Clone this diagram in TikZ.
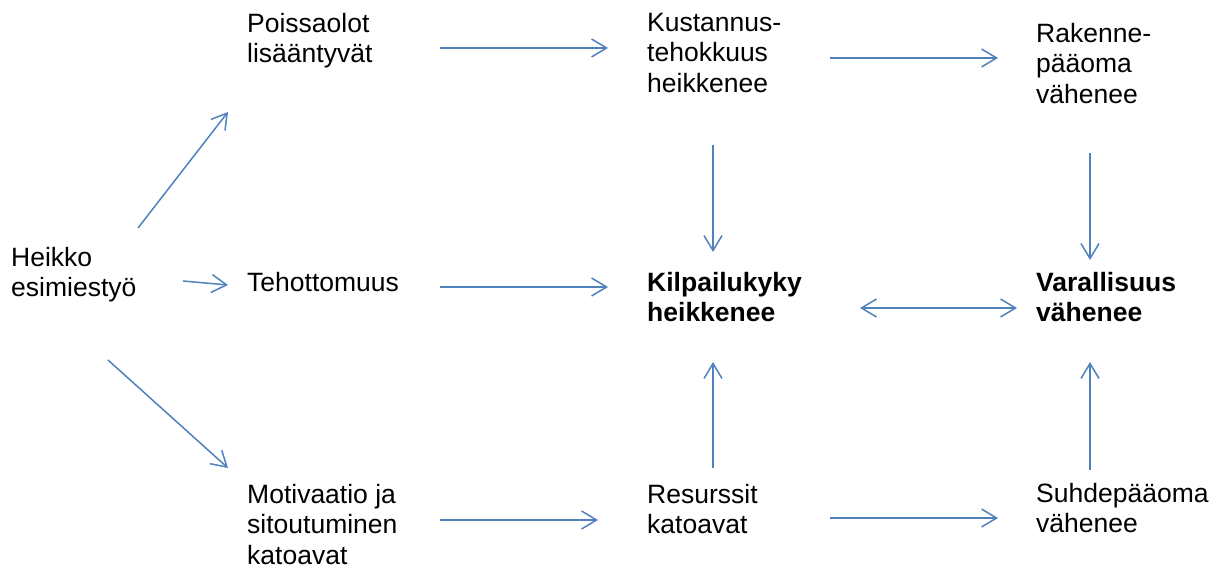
\documentclass[tikz,border=0pt]{standalone}
\usepackage{fontspec}
\setmainfont{Liberation Sans}
\usetikzlibrary{arrows.meta,positioning}
\definecolor{arrowcol}{RGB}{79,129,189}

\begin{document}
\begin{tikzpicture}[x=1pt,y=1pt,
  >={Straight Barb[length=15pt,width=18pt]},
  box/.style={anchor=north west,inner sep=0pt,align=left,
    font=\fontsize{26.5}{30.5}\selectfont},
  strong/.style={box,font=\fontsize{26.5}{30}\selectfont\bfseries},
  arr/.style={->,draw=arrowcol,line width=1.5pt}]
\useasboundingbox (0,0) rectangle (1230,567);
%%
  % Node: heikko
  \node[box] (heikko) at (11,320) {Heikko\\esimiestyö};
  % Node: poissa
  \node[box] (poissa) at (247,554) {Poissaolot\\lisääntyvät};
  % Node: teho
  \node[box] (teho) at (247,295) {Tehottomuus};
  % Node: motiv
  \node[box] (motiv) at (247,83) {Motivaatio ja\\sitoutuminen\\katoavat};
  % Node: kust
  \node[box] (kust) at (647,554) {Kustannus-\\tehokkuus\\heikkenee};
  % Node: kilp
  \node[strong] (kilp) at (647,295) {Kilpailukyky\\heikkenee};
  % Node: resurs
  \node[box] (resurs) at (647,83) {Resurssit\\katoavat};
  % Node: rakenne
  \node[box] (rakenne) at (1036,544) {Rakenne-\\pääoma\\vähenee};
  % Node: varall
  \node[strong] (varall) at (1036,295) {Varallisuus\\vähenee};
  % Node: suhde
  \node[box] (suhde) at (1036,84) {Suhdepääoma\\vähenee};
%%
  % Edge: heikko -> poissa
  \draw[arr] ([shift={(127,19)}]heikko.north west) -- ([shift={(-19,-99)}]poissa.north west);
  % Edge: heikko -> teho
  \draw[arr] ([shift={(172,-34)}]heikko.north west) -- ([shift={(-19,-13)}]teho.north west);
  % Edge: heikko -> motiv
  \draw[arr] ([shift={(97,-113)}]heikko.north west) -- ([shift={(-19,16)}]motiv.north west);
  % Edge: poissa -> kust
  \draw[arr] ([shift={(193,-35)}]poissa.north west) -- ([shift={(-39,-35)}]kust.north west);
  % Edge: teho -> kilp
  \draw[arr] ([shift={(193,-15)}]teho.north west) -- ([shift={(-39,-15)}]kilp.north west);
  % Edge: motiv -> resurs
  \draw[arr] ([shift={(193,-36)}]motiv.north west) -- ([shift={(-49,-36)}]resurs.north west);
  % Edge: kust -> kilp
  \draw[arr] ([shift={(66,-132)}]kust.north west) -- ([shift={(66,20)}]kilp.north west);
  % Edge: kust -> rakenne
  \draw[arr] ([shift={(183,-45)}]kust.north west) -- ([shift={(-38,-35)}]rakenne.north west);
  % Edge: resurs -> kilp
  \draw[arr] ([shift={(66,16)}]resurs.north west) -- ([shift={(66,-90)}]kilp.north west);
  % Edge: resurs -> suhde
  \draw[arr] ([shift={(183,-34)}]resurs.north west) -- ([shift={(-38,-35)}]suhde.north west);
  % Edge: rakenne -> varall
  \draw[arr] ([shift={(54,-130)}]rakenne.north west) -- ([shift={(54,12)}]varall.north west);
  % Edge: suhde -> varall
  \draw[arr] ([shift={(54,13)}]suhde.north west) -- ([shift={(54,-90)}]varall.north west);
  % Edge: kilp <-> varall
  \draw[arr,<->] ([shift={(213,-36)}]kilp.north west) -- ([shift={(-19,-36)}]varall.north west);
%
\end{tikzpicture}
\end{document}
